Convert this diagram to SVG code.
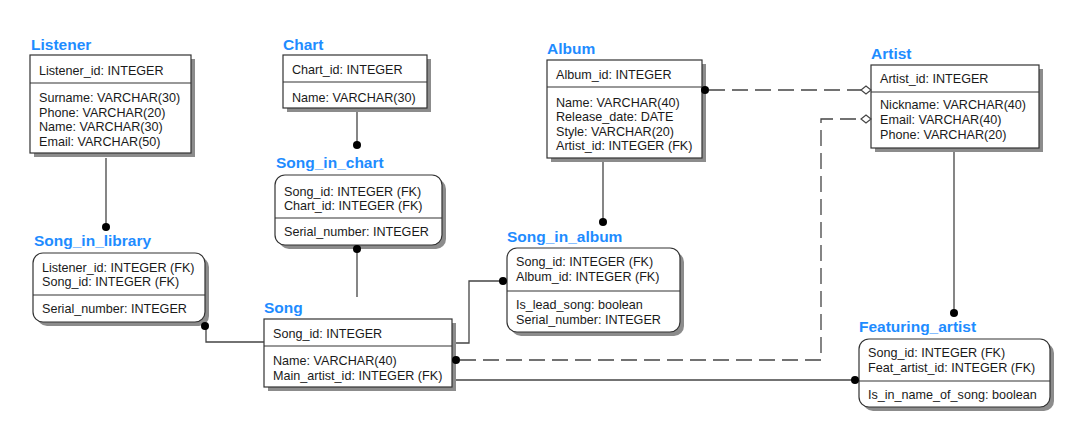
<svg xmlns="http://www.w3.org/2000/svg" width="1073" height="428" viewBox="0 0 1073 428">
<style>
.bg{fill:#fff}
.sh{fill:#8c8c8c}
.box{fill:#fff;stroke:#333;stroke-width:1.2}
.div{stroke:#333;stroke-width:1.2}
.t{font-family:"Liberation Sans",Arial,sans-serif;font-size:12.6px;fill:#1a1a1a}
.ttl{font-family:"Liberation Sans",Arial,sans-serif;font-size:15.5px;font-weight:bold;fill:#1e8cff}
.ln{fill:none;stroke:#444;stroke-width:1.3}
.dash{fill:none;stroke:#444;stroke-width:1.3;stroke-dasharray:16 7}
.dot{fill:#000}
.dia{fill:#fff;stroke:#444;stroke-width:1.2}
</style>
<rect class="bg" width="1073" height="428"/>

<g id="listener">
  <text class="ttl" x="31" y="50">Listener</text>
  <rect class="sh" x="34" y="59" width="161" height="98"/>
  <rect class="box" x="30" y="55" width="161" height="98"/>
  <line class="div" x1="30" y1="83" x2="191" y2="83"/>
  <text class="t" x="39" y="74.5">Listener_id: INTEGER</text>
  <text class="t" x="39" y="102">Surname: VARCHAR(30)</text>
  <text class="t" x="39" y="116.5">Phone: VARCHAR(20)</text>
  <text class="t" x="39" y="131">Name: VARCHAR(30)</text>
  <text class="t" x="39" y="145.5">Email: VARCHAR(50)</text>
</g>

<g id="chart">
  <text class="ttl" x="283" y="49.5">Chart</text>
  <rect class="sh" x="287" y="59" width="144" height="53"/>
  <rect class="box" x="283" y="55" width="144" height="53"/>
  <line class="div" x1="283" y1="82" x2="427" y2="82"/>
  <text class="t" x="292" y="73.5">Chart_id: INTEGER</text>
  <text class="t" x="292" y="102">Name: VARCHAR(30)</text>
</g>

<g id="album">
  <text class="ttl" x="547" y="53.5">Album</text>
  <rect class="sh" x="551" y="64" width="155" height="98"/>
  <rect class="box" x="547" y="60" width="155" height="98"/>
  <line class="div" x1="547" y1="87" x2="702" y2="87"/>
  <text class="t" x="556" y="78.5">Album_id: INTEGER</text>
  <text class="t" x="556" y="106.5">Name: VARCHAR(40)</text>
  <text class="t" x="556" y="121">Release_date: DATE</text>
  <text class="t" x="556" y="135.5">Style: VARCHAR(20)</text>
  <text class="t" x="556" y="150">Artist_id: INTEGER (FK)</text>
</g>

<g id="artist">
  <text class="ttl" x="871" y="58.5">Artist</text>
  <rect class="sh" x="875" y="69" width="168" height="83"/>
  <rect class="box" x="871" y="65" width="168" height="83"/>
  <line class="div" x1="871" y1="92" x2="1039" y2="92"/>
  <text class="t" x="880" y="82.5">Artist_id: INTEGER</text>
  <text class="t" x="880" y="109">Nickname: VARCHAR(40)</text>
  <text class="t" x="880" y="124">Email: VARCHAR(40)</text>
  <text class="t" x="880" y="139">Phone: VARCHAR(20)</text>
</g>

<g id="song_in_chart">
  <text class="ttl" x="276" y="168">Song_in_chart</text>
  <rect class="sh" x="279" y="179" width="167" height="70" rx="10"/>
  <rect class="box" x="275" y="175" width="167" height="70" rx="10"/>
  <line class="div" x1="275" y1="218" x2="442" y2="218"/>
  <text class="t" x="284" y="195.5">Song_id: INTEGER (FK)</text>
  <text class="t" x="284" y="209.5">Chart_id: INTEGER (FK)</text>
  <text class="t" x="284" y="235.5">Serial_number: INTEGER</text>
</g>

<g id="song_in_library">
  <text class="ttl" x="34" y="246">Song_in_library</text>
  <rect class="sh" x="37" y="257" width="172" height="69" rx="10"/>
  <rect class="box" x="33" y="253" width="172" height="69" rx="10"/>
  <line class="div" x1="33" y1="295" x2="205" y2="295"/>
  <text class="t" x="42" y="271.5">Listener_id: INTEGER (FK)</text>
  <text class="t" x="42" y="286">Song_id: INTEGER (FK)</text>
  <text class="t" x="42" y="312.5">Serial_number: INTEGER</text>
</g>

<g id="song">
  <text class="ttl" x="264" y="313">Song</text>
  <rect class="sh" x="268" y="323" width="188" height="68"/>
  <rect class="box" x="264" y="319" width="188" height="68"/>
  <line class="div" x1="264" y1="346" x2="452" y2="346"/>
  <text class="t" x="273" y="337.5">Song_id: INTEGER</text>
  <text class="t" x="273" y="364.5">Name: VARCHAR(40)</text>
  <text class="t" x="273" y="379.5">Main_artist_id: INTEGER (FK)</text>
</g>

<g id="song_in_album">
  <text class="ttl" x="507" y="242">Song_in_album</text>
  <rect class="sh" x="511" y="252" width="173" height="84" rx="10"/>
  <rect class="box" x="507" y="248" width="173" height="84" rx="10"/>
  <line class="div" x1="507" y1="291" x2="680" y2="291"/>
  <text class="t" x="516" y="265.5">Song_id: INTEGER (FK)</text>
  <text class="t" x="516" y="281">Album_id: INTEGER (FK)</text>
  <text class="t" x="516" y="308.5">Is_lead_song: boolean</text>
  <text class="t" x="516" y="323.5">Serial_number: INTEGER</text>
</g>

<g id="featuring_artist">
  <text class="ttl" x="859" y="332">Featuring_artist</text>
  <rect class="sh" x="863" y="343" width="191" height="68" rx="10"/>
  <rect class="box" x="859" y="339" width="191" height="68" rx="10"/>
  <line class="div" x1="859" y1="381" x2="1050" y2="381"/>
  <text class="t" x="868" y="356.5">Song_id: INTEGER (FK)</text>
  <text class="t" x="868" y="372">Feat_artist_id: INTEGER (FK)</text>
  <text class="t" x="868" y="398.5">Is_in_name_of_song: boolean</text>
</g>

<g id="connectors">
  <line class="ln" x1="106" y1="158" x2="106" y2="227"/>
  <circle class="dot" cx="106" cy="227" r="4"/>
  <line class="ln" x1="357" y1="112" x2="357" y2="145"/>
  <circle class="dot" cx="357" cy="145" r="4"/>
  <line class="ln" x1="357" y1="249" x2="357" y2="297"/>
  <circle class="dot" cx="357" cy="249" r="4"/>
  <path class="ln" d="M206,326 V342 H264"/>
  <circle class="dot" cx="205" cy="326" r="4"/>
  <path class="ln" d="M456,343 H469 V281 H503"/>
  <circle class="dot" cx="503" cy="281" r="4"/>
  <line class="ln" x1="603" y1="162" x2="603" y2="222"/>
  <circle class="dot" cx="603" cy="222" r="4"/>
  <line class="dash" x1="709" y1="90" x2="861" y2="90"/>
  <circle class="dot" cx="705" cy="90" r="4"/>
  <polygon class="dia" points="871,90 866,86 861,90 866,94"/>
  <path class="dash" d="M460,360 H821 V119 H861"/>
  <circle class="dot" cx="456" cy="360" r="4"/>
  <polygon class="dia" points="871,119 866,115 861,119 866,123"/>
  <line class="ln" x1="954" y1="152" x2="954" y2="313"/>
  <circle class="dot" cx="954" cy="313" r="4"/>
  <line class="ln" x1="456" y1="380" x2="855" y2="380"/>
  <circle class="dot" cx="855" cy="380" r="4"/>
</g>
</svg>
